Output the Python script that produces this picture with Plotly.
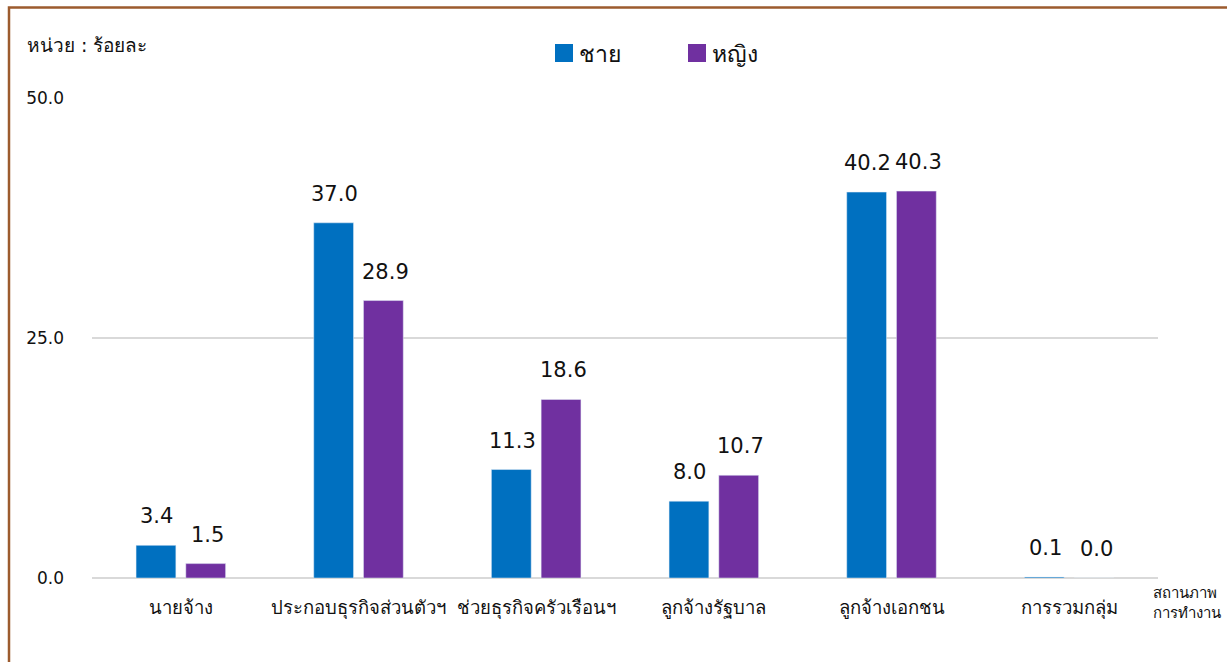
import plotly.graph_objects as go

categories = ["นายจ้าง", "ประกอบธุรกิจส่วนตัวฯ", "ช่วยธุรกิจครัวเรือนฯ", "ลูกจ้างรัฐบาล", "ลูกจ้างเอกชน", "การรวมกลุ่ม"]
male = [3.4, 37.0, 11.3, 8.0, 40.2, 0.1]
female = [1.5, 28.9, 18.6, 10.7, 40.3, 0.0]
series_names = ["ชาย", "หญิง"]
y_ticks = [0, 25, 50]
y_tick_labels = ["0.0", "25.0", "50.0"]
unit_label = "หน่วย : ร้อยละ"
x_title = "สถานภาพ<br>การทำงาน"

FONT = "'DejaVu Sans', Tahoma, sans-serif"
BLUE = "#0070C0"
PURPLE = "#7030A0"
TXT = "#111111"

W, H = 1227, 662
L, R, T, B = 92, 69, 98, 84
PW = W - L - R
PH = H - T - B


def px(x):
    return (x - L) / PW


def py(y):
    return (H - B - y) / PH


fig = go.Figure()
fig.add_trace(go.Bar(x=categories, y=male, name=series_names[0], marker_color=BLUE, showlegend=False))
fig.add_trace(go.Bar(x=categories, y=female, name=series_names[1], marker_color=PURPLE, showlegend=False))

annotations = []
for vals, shift in ((male, -24), (female, 27)):
    for c, v in zip(categories, vals):
        annotations.append(dict(x=c, y=v, xref="x", yref="y", text=f"{v:.1f}", showarrow=False,
                                xshift=shift, yshift=29, yanchor="middle",
                                font=dict(size=21, color=TXT, family=FONT)))

annotations.append(dict(text=unit_label, showarrow=False, xref="paper", yref="paper",
                        x=px(25), y=py(45), xanchor="left", yanchor="middle",
                        font=dict(size=19, color=TXT, family=FONT)))
annotations.append(dict(text=x_title, showarrow=False, xref="paper", yref="paper",
                        x=px(1151), y=py(603), xanchor="left", yanchor="middle", align="left",
                        font=dict(size=15, color=TXT, family=FONT)))

# legend drawn manually for larger swatches
legend_items = [(series_names[0], BLUE, 555), (series_names[1], PURPLE, 688)]
shapes = []
for name, col, x0 in legend_items:
    shapes.append(dict(type="rect", xref="paper", yref="paper", x0=px(x0), x1=px(x0 + 18),
                       y0=py(62), y1=py(44), fillcolor=col, line=dict(width=0)))
    annotations.append(dict(text=name, showarrow=False, xref="paper", yref="paper",
                            x=px(x0 + 22), y=py(54), xanchor="left", yanchor="middle",
                            font=dict(size=23, color=TXT, family=FONT)))

shapes.append(dict(type="rect", xref="paper", yref="paper",
                   x0=px(9), x1=px(1245), y0=py(680), y1=py(7.5),
                   line=dict(color="#9C5B2E", width=2.5), fillcolor="rgba(0,0,0,0)", layer="below"))

fig.update_layout(
    width=W, height=H,
    margin=dict(l=L, r=R, t=T, b=B),
    paper_bgcolor="white", plot_bgcolor="white",
    barmode="group", bargap=0.44, bargroupgap=0.2,
    font=dict(family=FONT, color=TXT),
    showlegend=False,
    annotations=annotations,
    shapes=shapes,
)
fig.update_xaxes(showgrid=False, showline=False, ticks="", tickfont=dict(size=18.5, color=TXT, family=FONT),
                 ticklabelstandoff=16)
fig.update_yaxes(range=[0, 50], tickvals=y_ticks, ticktext=y_tick_labels, showgrid=True, gridcolor="#D9D9D9",
                 gridwidth=2, zeroline=True, zerolinecolor="#D9D9D9", zerolinewidth=2, showline=False,
                 tickfont=dict(size=17, color=TXT, family=FONT), ticklabelstandoff=27)

fig.write_html("out.html", config={"displayModeBar": False},
               post_script="document.body.style.margin='0';")
